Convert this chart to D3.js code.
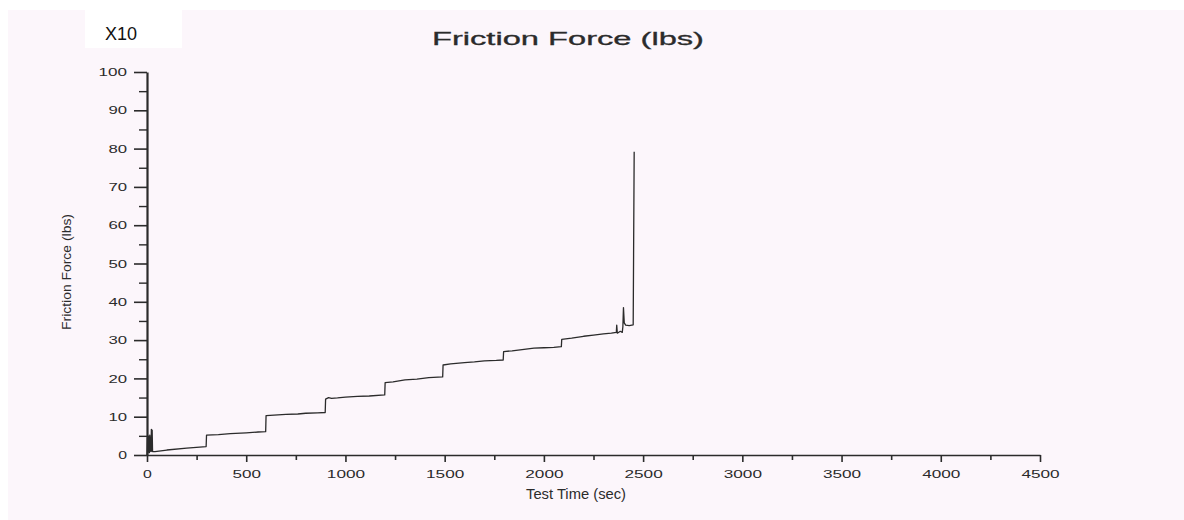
<!DOCTYPE html>
<html><head><meta charset="utf-8">
<script src="https://cdn.jsdelivr.net/npm/d3@7"></script>
<style>html,body{margin:0;padding:0;background:#fff;} svg{display:block}</style>
</head><body><svg id="c" width="1184" height="520"></svg>
<script>
// ---- data ----
const timeSec = [0, 2, 4, 6, 8, 10, 12, 14, 16, 18, 20, 22, 24, 26, 28, 40, 100, 200, 298, 300, 360, 420, 500, 560, 598, 600, 640, 700, 760, 800, 860, 898, 900, 915, 930, 960, 1000, 1060, 1120, 1198, 1200, 1240, 1300, 1360, 1420, 1490, 1492, 1530, 1600, 1650, 1700, 1760, 1795, 1797, 1840, 1900, 1950, 2000, 2050, 2088, 2090, 2140, 2200, 2250, 2300, 2340, 2365, 2367, 2370, 2385, 2395, 2398, 2401, 2405, 2412, 2430, 2450, 2455];
const frictionLbs = [0, 4.5, 0.5, 5.0, 0.8, 4.8, 0.6, 5.2, 1.0, 4.6, 0.9, 6.7, 1.0, 6.5, 0.9, 0.9, 1.3, 1.8, 2.2, 5.2, 5.3, 5.6, 5.8, 6.0, 6.1, 10.3, 10.4, 10.6, 10.7, 10.9, 11.0, 11.1, 14.6, 15.0, 14.8, 14.9, 15.1, 15.3, 15.4, 15.7, 18.9, 19.1, 19.6, 19.8, 20.2, 20.4, 23.5, 23.8, 24.1, 24.3, 24.6, 24.7, 24.8, 27.0, 27.2, 27.6, 27.9, 28.0, 28.1, 28.3, 30.2, 30.5, 31.0, 31.3, 31.6, 31.8, 32.0, 33.9, 31.8, 32.3, 32.0, 33.5, 38.5, 34.5, 33.9, 33.8, 34.0, 79.2];
const xMajorTicks = [0, 500, 1000, 1500, 2000, 2500, 3000, 3500, 4000, 4500];
const xMinorTicks = [250, 750, 1250, 1750, 2250, 2750, 3250, 3750, 4250];
const yMajorTicks = [0, 10, 20, 30, 40, 50, 60, 70, 80, 90, 100];
const yMinorTicks = [5, 15, 25, 35, 45, 55, 65, 75, 85, 95];
const titleText = "Friction Force (lbs)";
const xLabelText = "Test Time (sec)";
const yLabelText = "Friction Force (lbs)";
const scaleNote = "X10";

// ---- drawing ----
const svg = d3.select("#c");
const FONT = "'Liberation Sans', Arial, Helvetica, sans-serif";
const INK = "#2b2b2b";

svg.append("rect").attr("x", 8).attr("y", 10).attr("width", 1176).attr("height", 510).attr("fill", "#fcf6fb");
svg.append("rect").attr("x", 85).attr("y", 10).attr("width", 97).attr("height", 38).attr("fill", "#ffffff");
svg.append("text").attr("x", 105).attr("y", 40).attr("font-family", FONT).attr("font-size", 18)
  .attr("fill", "#111").text(scaleNote);

const x = d3.scaleLinear().domain([0, 4500]).range([147, 1040]);
const y = d3.scaleLinear().domain([0, 100]).range([455, 72]);

function styleAxis(g, w) {
  g.select(".domain").attr("stroke", INK).attr("stroke-width", w);
  g.selectAll(".tick line").attr("stroke", INK).attr("stroke-width", 1.6);
  g.selectAll(".tick text").attr("font-family", FONT).attr("font-size", 11.5).attr("fill", INK)
    .each(function () {
      const t = d3.select(this).text();
      d3.select(this).attr("textLength", t.length * 9.8 - 1).attr("lengthAdjust", "spacingAndGlyphs");
    });
}

// minor ticks
svg.append("g").attr("transform", `translate(0,${y(0)})`)
  .call(d3.axisBottom(x).tickValues(xMinorTicks).tickSize(5).tickSizeOuter(0).tickFormat(""))
  .call(g => { g.select(".domain").remove(); g.selectAll(".tick line").attr("stroke", INK).attr("stroke-width", 1.6); });
svg.append("g").attr("transform", `translate(${x(0)},0)`)
  .call(d3.axisLeft(y).tickValues(yMinorTicks).tickSize(8).tickSizeOuter(0).tickFormat(""))
  .call(g => { g.select(".domain").remove(); g.selectAll(".tick line").attr("stroke", INK).attr("stroke-width", 1.4); });

// major axes
svg.append("g").attr("transform", `translate(0,${y(0)})`)
  .call(d3.axisBottom(x).tickValues(xMajorTicks).tickSize(7).tickSizeOuter(0).tickPadding(8).tickFormat(d3.format("d")))
  .call(g => styleAxis(g, 1.6));
svg.append("g").attr("transform", `translate(${x(0)},0)`)
  .call(d3.axisLeft(y).tickValues(yMajorTicks).tickSize(13).tickSizeOuter(0).tickPadding(7).tickFormat(d3.format("d")))
  .call(g => styleAxis(g, 2.2));

// data line
const line = d3.line().x((d, i) => x(timeSec[i])).y(d => y(d));
svg.append("path").datum(frictionLbs).attr("d", line).attr("fill", "none")
  .attr("stroke", INK).attr("stroke-width", 1.3).attr("stroke-linejoin", "round");

// title & labels
svg.append("text").attr("x", 568).attr("y", 45).attr("text-anchor", "middle")
  .attr("font-family", FONT).attr("font-size", 18).attr("fill", INK).attr("stroke", INK).attr("stroke-width", 0.3)
  .attr("textLength", 272).attr("lengthAdjust", "spacingAndGlyphs").text(titleText);
svg.append("text").attr("x", 576).attr("y", 499).attr("text-anchor", "middle")
  .attr("font-family", FONT).attr("font-size", 14).attr("fill", INK)
  .attr("textLength", 100).attr("lengthAdjust", "spacingAndGlyphs").text(xLabelText);
svg.append("text").attr("transform", "translate(71,272) rotate(-90)").attr("text-anchor", "middle")
  .attr("font-family", FONT).attr("font-size", 13).attr("fill", INK)
  .attr("textLength", 116).attr("lengthAdjust", "spacingAndGlyphs").text(yLabelText);
</script>
</body></html>
